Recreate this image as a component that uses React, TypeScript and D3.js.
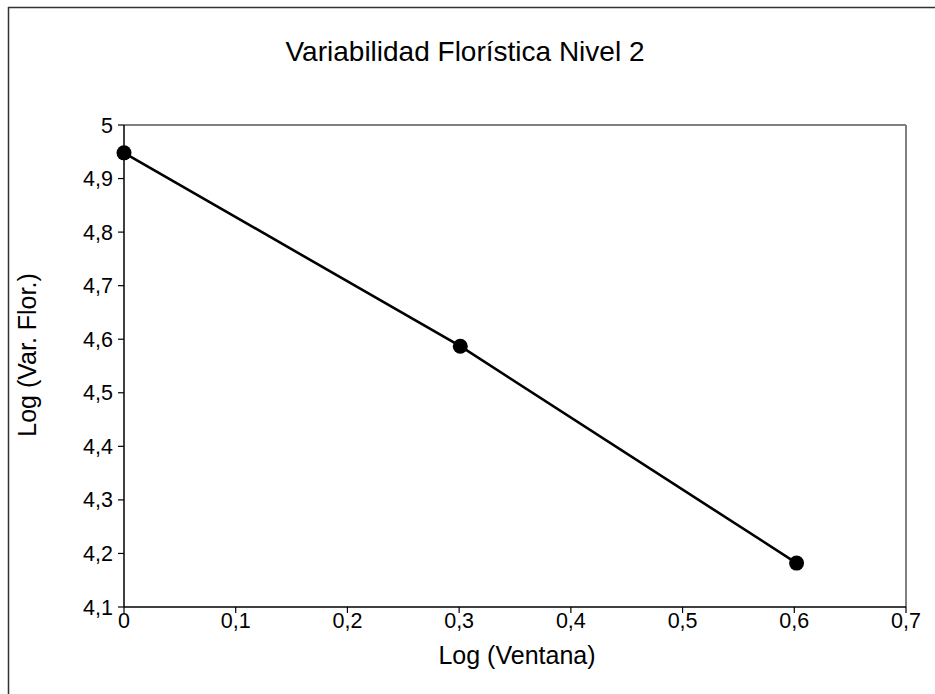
import React from "react";
import * as d3 from "d3";

const xValues = [0, 0.30103, 0.60206];
const yValues = [4.948, 4.587, 4.182];
const xTicks = [0, 0.1, 0.2, 0.3, 0.4, 0.5, 0.6, 0.7];
const yTicks = [4.1, 4.2, 4.3, 4.4, 4.5, 4.6, 4.7, 4.8, 4.9, 5];
const title = "Variabilidad Florística Nivel 2";
const xTitle = "Log (Ventana)";
const yTitle = "Log (Var. Flor.)";

const fmt = (v: number) => {
  const s = d3.format(".1f")(v);
  const t = s.endsWith(".0") ? s.slice(0, -2) : s;
  return t.replace(".", ",");
};

export default function App() {
  const W = 935, H = 694;
  const left = 124, right = 906, top = 125, bottom = 607;
  const x = d3.scaleLinear().domain([0, 0.7]).range([left, right]);
  const y = d3.scaleLinear().domain([4.1, 5]).range([bottom, top]);
  const pts = xValues.map((v, i) => [v, yValues[i]] as [number, number]);
  const line = d3.line<[number, number]>().x(d => x(d[0])).y(d => y(d[1]));
  const font = "Arial, 'Liberation Sans', sans-serif";
  return (
    <svg width={W} height={H} style={{ position: "absolute", left: 0, top: 0, background: "#fff" }} fontFamily={font}>
      <line x1={8} x2={W} y1={7.5} y2={7.5} stroke="#333" strokeWidth={1.5} />
      <line x1={8.5} x2={8.5} y1={7} y2={H} stroke="#333" strokeWidth={1.5} />
      <text x={465} y={61} textAnchor="middle" fontSize={28} fill="#000">{title}</text>
      <line x1={left} x2={right} y1={top} y2={top} stroke="#808080" strokeWidth={2} />
      <line x1={right} x2={right} y1={top} y2={bottom} stroke="#808080" strokeWidth={2} />
      <line x1={left} x2={right} y1={bottom} y2={bottom} stroke="#000" strokeWidth={1.5} />
      <line x1={left} x2={left} y1={top} y2={bottom} stroke="#000" strokeWidth={1.5} />
      {xTicks.map(t => (
        <g key={"x" + t}>
          <line x1={x(t)} x2={x(t)} y1={bottom} y2={bottom + 6} stroke="#000" strokeWidth={1.2} />
          <text x={x(t)} y={bottom + 21} textAnchor="middle" fontSize={21.5} fill="#000">{fmt(t)}</text>
        </g>
      ))}
      {yTicks.map(t => (
        <g key={"y" + t}>
          <line x1={left - 6} x2={left} y1={y(t)} y2={y(t)} stroke="#000" strokeWidth={1.2} />
          <text x={left - 11} y={y(t) + 7.5} textAnchor="end" fontSize={21.5} fill="#000">{fmt(t)}</text>
        </g>
      ))}
      <text x={517} y={664} textAnchor="middle" fontSize={25} fill="#000">{xTitle}</text>
      <text transform={`translate(36,355) rotate(-90)`} textAnchor="middle" fontSize={25} fill="#000">{yTitle}</text>
      <path d={line(pts) || ""} fill="none" stroke="#000" strokeWidth={2.6} />
      {pts.map((p, i) => (
        <circle key={i} cx={x(p[0])} cy={y(p[1])} r={7.5} fill="#000" />
      ))}
    </svg>
  );
}
